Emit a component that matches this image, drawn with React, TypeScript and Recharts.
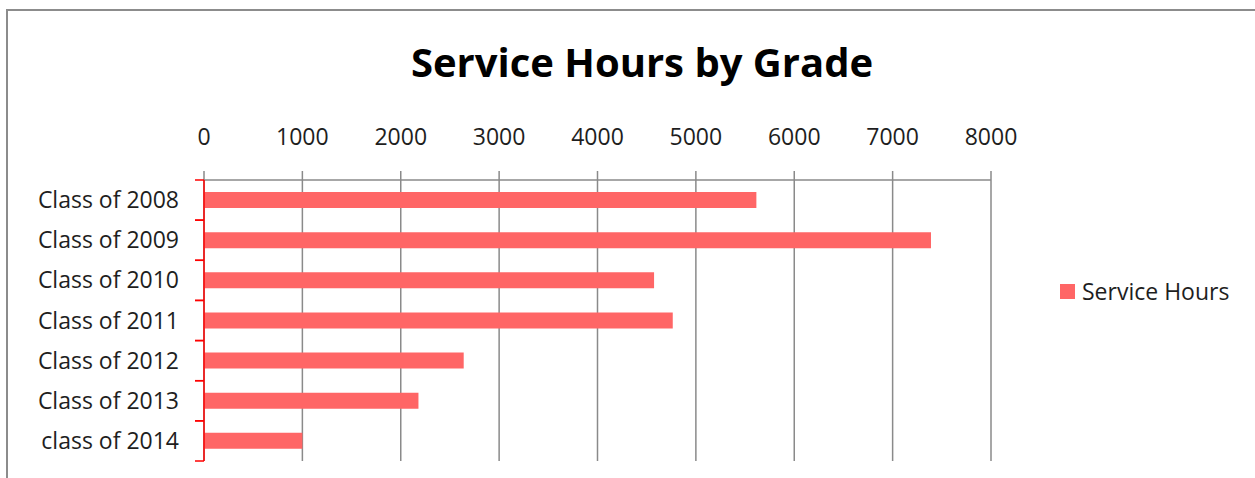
import React from 'react';
import {
  BarChart,
  Bar,
  XAxis,
  YAxis,
  CartesianGrid,
  Legend,
} from 'recharts';

const classes = [
  'Class of 2008',
  'Class of 2009',
  'Class of 2010',
  'Class of 2011',
  'Class of 2012',
  'Class of 2013',
  'class of 2014',
];
const serviceHours = [5615, 7390, 4575, 4765, 2640, 2180, 1000];
const hourTicks = [0, 1000, 2000, 3000, 4000, 5000, 6000, 7000, 8000];

const FONT = '"Open Sans", sans-serif';
const BAR_COLOR = '#ff6666';
const GRID_COLOR = '#8a8a8a';
const AXIS_RED = '#ff0000';

const data = classes.map((name, i) => ({ name, hours: serviceHours[i] }));

// category ticks sit between the bands, so draw them from the tick's band offset
const ClassTick = (props: any) => {
  const { x, y, payload } = props;
  const half = payload && payload.offset ? payload.offset : 20;
  const x2 = x + 16 + 9;
  const x1 = x + 16;
  return (
    <g>
      <line x1={x1} x2={x2} y1={y - half} y2={y - half} stroke={AXIS_RED} strokeWidth={1.5} />
      <line x1={x1} x2={x2} y1={y + half} y2={y + half} stroke={AXIS_RED} strokeWidth={1.5} />
      <text
        x={x}
        y={y}
        dy={8}
        textAnchor="end"
        fill="#1e1e1e"
        fontSize={23}
        fontFamily={FONT}
      >
        {payload.value}
      </text>
    </g>
  );
};

const LegendBox = (props: any) => {
  const items = props.payload || [];
  return (
    <div>
      {items.map((item: any) => (
        <div
          key={item.value}
          style={{
            display: 'flex',
            alignItems: 'center',
            fontFamily: FONT,
            fontSize: 23,
            lineHeight: '24px',
            color: '#1e1e1e',
          }}
        >
          <span
            style={{ width: 15, height: 15, background: BAR_COLOR, marginRight: 7, display: 'inline-block' }}
          />
          <span>{item.value}</span>
        </div>
      ))}
    </div>
  );
};

export default function App() {
  return (
    <div style={{ position: 'absolute', left: 0, top: 0, width: 1255, height: 478, overflow: 'hidden', background: '#fff' }}>
      <div
        style={{
          position: 'absolute',
          left: 6,
          top: 9,
          width: 1270,
          height: 490,
          border: '2px solid #8c8c8c',
        }}
      />
      <div
        style={{
          position: 'absolute',
          left: 0,
          top: 42,
          width: 1284,
          textAlign: 'center',
          fontFamily: FONT,
          fontWeight: 700,
          fontSize: 40,
          lineHeight: '40px',
          color: '#000',
        }}
      >
        Service Hours by Grade
      </div>
      <BarChart
        width={1255}
        height={478}
        data={data}
        layout="vertical"
        margin={{ top: 120, right: 264, bottom: 17, left: 0 }}
        style={{ fontFamily: FONT }}
      >
        <CartesianGrid horizontal={false} stroke={GRID_COLOR} strokeWidth={1.5} />
        <XAxis
          type="number"
          orientation="top"
          domain={[0, 8000]}
          ticks={hourTicks}
          height={60}
          axisLine={{ stroke: GRID_COLOR, strokeWidth: 1.5 }}
          tickLine={{ stroke: GRID_COLOR, strokeWidth: 1.5 }}
          tickSize={9}
          tickMargin={26}
          tick={{ fill: '#1e1e1e', fontSize: 23, fontFamily: FONT }}
        />
        <YAxis
          type="category"
          dataKey="name"
          width={204}
          axisLine={{ stroke: AXIS_RED, strokeWidth: 1.5 }}
          tickLine={false}
          tickSize={9}
          tickMargin={16}
          tick={<ClassTick />}
          interval={0}
        />
        <Legend
          layout="vertical"
          align="center"
          verticalAlign="middle"
          content={<LegendBox />}
          wrapperStyle={{ position: 'absolute', left: 1060, top: 279, width: 'auto' }}
        />
        <Bar
          dataKey="hours"
          name="Service Hours"
          fill={BAR_COLOR}
          barSize={16}
          isAnimationActive={false}
        />
      </BarChart>
    </div>
  );
}
